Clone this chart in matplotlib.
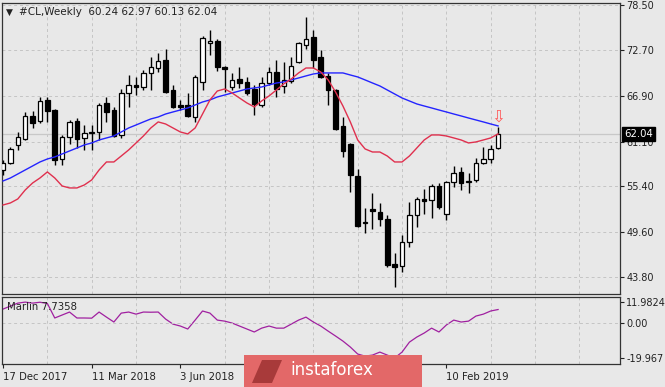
import numpy as np
import matplotlib
matplotlib.use('Agg')
import matplotlib.pyplot as plt
from matplotlib.patches import Rectangle, Polygon

# weekly candles, 17 Dec 2017 .. 31 Mar 2019
opens = [57.5, 58.4, 60.7, 61.4, 64.4, 63.7, 66.4, 65.1, 58.9, 61.7,
         63.7, 61.6, 62.25, 62.3, 66.0, 65.1, 61.9, 67.3, 68.3, 68.1,
         69.8, 70.5, 71.5, 67.7, 65.8, 65.8, 64.2, 68.7, 73.7, 73.9,
         70.6, 68.1, 69.1, 68.7, 67.8, 65.8, 68.6, 70.0, 68.2, 68.8,
         71.2, 73.4, 74.4, 71.9, 69.5, 67.7, 63.1, 60.8, 56.7, 50.7,
         52.5, 52.1, 51.2, 45.5, 45.3, 48.3, 51.7, 53.8, 53.7, 55.4,
         51.9, 55.9, 57.2, 55.9, 56.2, 58.4, 58.9, 60.24]
highs = [58.8, 60.4, 62.3, 64.9, 65.0, 66.8, 66.8, 65.3, 61.9, 63.8,
         64.1, 63.2, 63.2, 66.0, 66.8, 65.5, 67.8, 69.6, 69.3, 70.2,
         71.9, 72.4, 72.9, 68.3, 66.4, 67.3, 69.6, 74.6, 75.3, 74.2,
         70.7, 69.8, 70.6, 69.3, 68.3, 69.3, 70.6, 71.5, 71.2, 71.9,
         73.8, 77.0, 75.3, 72.8, 69.8, 67.8, 64.2, 60.9, 57.6, 52.6,
         54.5, 53.3, 51.7, 46.9, 49.2, 53.4, 54.0, 55.1, 55.7, 55.8,
         56.1, 58.0, 57.9, 57.1, 59.0, 60.4, 60.7, 62.97]
lows = [56.8, 58.2, 60.0, 61.3, 62.8, 63.5, 63.6, 58.1, 58.1, 60.8,
        60.3, 60.0, 60.0, 61.3, 63.6, 61.7, 61.6, 65.5, 67.0, 67.7,
        67.7, 70.0, 67.3, 65.4, 65.1, 64.2, 63.6, 67.7, 72.1, 70.1,
        67.4, 67.7, 67.9, 67.0, 64.5, 65.5, 68.3, 66.8, 67.3, 68.6,
        71.1, 72.9, 70.5, 69.2, 65.8, 62.6, 59.1, 54.7, 50.2, 49.5,
        50.0, 50.3, 45.1, 42.6, 44.5, 47.7, 50.2, 51.9, 51.4, 52.5,
        51.1, 55.3, 54.9, 54.6, 55.9, 58.2, 58.4, 60.13]
closes = [58.4, 60.2, 61.7, 64.4, 63.5, 66.3, 65.0, 58.8, 61.7, 63.6,
          61.4, 62.2, 62.35, 65.8, 64.9, 61.8, 67.3, 68.3, 68.1, 69.8,
          70.6, 71.4, 67.4, 65.5, 65.5, 64.4, 69.3, 74.3, 73.9, 70.6,
          70.3, 69.0, 68.6, 67.3, 65.9, 68.6, 70.0, 67.8, 69.0, 70.7,
          73.7, 74.2, 71.5, 69.3, 67.7, 62.7, 59.9, 56.8, 50.3, 50.8,
          52.3, 51.2, 45.4, 45.1, 48.3, 51.7, 53.8, 53.5, 55.4, 52.8,
          55.9, 57.1, 55.8, 56.1, 58.4, 58.9, 60.2, 62.04]

ma_fast = [53.02, 53.28, 53.79, 54.93, 55.82, 56.46, 57.23, 56.46, 55.44, 55.19,
           55.19, 55.57, 56.21, 57.48, 58.50, 58.50, 59.26, 60.03, 60.92, 61.81,
           62.83, 63.60, 63.34, 62.83, 62.32, 62.07, 62.83, 64.61, 66.40, 67.54,
           67.80, 67.29, 66.65, 66.02, 65.51, 66.27, 66.91, 67.67, 68.44, 69.07,
           69.84, 70.47, 70.47, 69.96, 68.95, 67.42, 65.63, 63.60, 61.30, 60.16,
           59.77, 59.77, 59.26, 58.50, 58.50, 59.26, 60.28, 61.30, 61.94, 61.94,
           61.81, 61.56, 61.30, 60.92, 61.05, 61.30, 61.56, 62.07]
ma_slow = [56.08, 56.46, 56.97, 57.48, 57.99, 58.50, 58.88, 59.14, 59.52, 59.90,
           60.28, 60.67, 60.92, 61.30, 61.56, 61.81, 62.32, 62.83, 63.21, 63.60,
           63.98, 64.23, 64.61, 64.87, 65.12, 65.38, 65.76, 66.14, 66.40, 66.78,
           67.03, 67.29, 67.54, 67.80, 67.93, 68.05, 68.31, 68.56, 68.69, 68.95,
           69.20, 69.46, 69.71, 69.84, 69.84, 69.84, 69.84, 69.58, 69.33, 68.95,
           68.56, 68.18, 67.67, 67.16, 66.65, 66.27, 65.89, 65.63, 65.38, 65.12,
           64.87, 64.61, 64.36, 64.10, 63.85, 63.60, 63.34, 63.09]
marlin = [8.0, 9.7, 11.4, 11.98, 11.4, 11.9, 11.2, 2.9, 4.6, 6.3,
          2.9, 2.9, 2.8, 6.3, 3.4, 0.6, 5.7, 6.3, 5.1, 6.3,
          6.2, 6.3, 2.3, -0.6, -1.7, -3.4, 1.7, 6.9, 5.7, 1.7,
          1.1, 0.0, -1.7, -3.4, -5.1, -2.9, -1.7, -2.9, -2.9, -0.6,
          1.7, 3.4, 0.6, -1.7, -4.6, -7.4, -10.3, -13.7, -17.7, -18.9,
          -18.3, -16.6, -18.3, -19.967, -16.6, -10.9, -8.0, -5.7, -2.9, -5.1,
          -1.1, 1.7, 0.6, 1.1, 4.0, 5.1, 6.9, 7.7358]

date_idx = [0, 12, 24, 36, 48, 60]
date_labels = ['17 Dec 2017', '11 Mar 2018', '3 Jun 2018', '26 Aug 2018', '18 Nov 2018', '10 Feb 2019']
price_ticks = [78.50, 72.70, 66.90, 61.10, 55.40, 49.60, 43.80]
marlin_ticks = [11.9824, 0.0, -19.967]
marlin_labels = ['11.9824', '0.00', '-19.967']

bg = '#e8e8e8'
grid_kw = dict(color='#c4c4c4', linestyle=(0, (3, 3)), linewidth=0.7)
W, H = 665, 387

fig = plt.figure(figsize=(W / 100, H / 100), dpi=100, facecolor=bg)
ax1 = fig.add_axes([2 / W, 1 - 294 / H, 618 / W, 291 / H], facecolor=bg)
ax2 = fig.add_axes([2 / W, 1 - 364 / H, 618 / W, 67 / H], facecolor=bg)

n = len(opens)
x = np.arange(n)
xlim = (-0.14, 83.5)

# candles
for i in range(n):
    o, h, l, c = opens[i], highs[i], lows[i], closes[i]
    ax1.vlines(i, l, h, color='black', linewidth=1, zorder=3)
    bottom = min(o, c)
    height = max(abs(c - o), 0.06)
    fc = 'white' if c >= o else 'black'
    ax1.add_patch(Rectangle((i - 0.31, bottom), 0.62, height, facecolor=fc,
                            edgecolor='black', linewidth=0.9, zorder=4))

ax1.plot(x, ma_slow, color='#2424ff', linewidth=1, zorder=5)
ax1.plot(x, ma_fast, color='#e0304e', linewidth=1, zorder=5)

# current price line and label
ax1.axhline(closes[-1], color='#c8c8c8', linewidth=0.9, zorder=1)
ax1.annotate('%.2f' % closes[-1], xy=(1.0, closes[-1]), xycoords=('axes fraction', 'data'),
             xytext=(3, 0), textcoords='offset points', ha='left', va='center',
             fontsize=7.3, color='white',
             bbox=dict(boxstyle='square,pad=0.2', facecolor='black', edgecolor='black'),
             annotation_clip=False, zorder=10)

# red arrow over last bar
ax1.annotate('\u21e9', xy=(n - 1, highs[-1]), xytext=(0, 1), textcoords='offset points',
             ha='center', va='bottom', fontsize=12, color='#ff5a5a', zorder=6)

ax1.set_xlim(*xlim)
ax1.set_ylim(41.68, 78.75)
ax1.yaxis.tick_right()
ax1.set_yticks(price_ticks)
ax1.set_yticklabels(['%.2f' % p for p in price_ticks])
ax1.set_xticks(np.arange(6, 84, 6))
ax1.tick_params(axis='x', length=0, labelbottom=False)
ax1.tick_params(axis='y', direction='out', length=3, width=0.8, pad=1.5, labelsize=7,
                colors='#222222')
ax1.grid(True, **grid_kw)
ax1.set_axisbelow(True)

# lower panel
ax2.plot(x, marlin, color='#a020a0', linewidth=0.9)
ax2.set_xlim(*xlim)
ax2.set_ylim(-23.4, 14.9)
ax2.yaxis.tick_right()
ax2.set_yticks(marlin_ticks)
ax2.set_yticklabels(marlin_labels)
ax2.tick_params(axis='y', direction='out', length=3, width=0.8, pad=1.5, labelsize=7,
                colors='#222222')
ax2.set_xticks(date_idx)
ax2.set_xticklabels(date_labels)
ax2.set_xticks(np.arange(6, 84, 6), minor=True)
ax2.tick_params(axis='x', which='major', direction='out', length=3, width=0.8, pad=3,
                labelsize=7.3, colors='#222222')
ax2.tick_params(axis='x', which='minor', length=0)
for lab in ax2.get_xticklabels():
    lab.set_ha('left')
ax2.grid(True, axis='x', which='minor', **grid_kw)
ax2.axhline(0, **grid_kw)
ax2.text(5 / 618, 0.85, 'Marlin 7.7358', transform=ax2.transAxes, fontsize=7.3,
         color='#222222', va='center', ha='left')

for ax in (ax1, ax2):
    for s in ax.spines.values():
        s.set_color('#333333')
        s.set_linewidth(0.9)

# header
fig.text(6 / W, 1 - 12 / H, '\u25bc', fontsize=6.5, color='#222222', va='center')
fig.text(19 / W, 1 - 12 / H, '#CL,Weekly  60.24 62.97 60.13 62.04', fontsize=7.5,
         color='#222222', va='center')

# watermark
fig.patches.append(Rectangle((244 / W, 0), 178 / W, 32 / H, transform=fig.transFigure,
                             facecolor='#e36868', edgecolor='none', zorder=20))
fig.patches.append(Polygon([(252 / W, 4 / H), (262 / W, 27 / H), (282 / W, 27 / H),
                            (272 / W, 4 / H)], closed=True, transform=fig.transFigure,
                           facecolor='#a83a3a', edgecolor='none', zorder=21))
fig.text(290 / W, 17 / H, 'instaforex', fontsize=12, color='white', va='center',
         ha='left', zorder=22)

fig.savefig('out.png', dpi=100, facecolor=bg)
